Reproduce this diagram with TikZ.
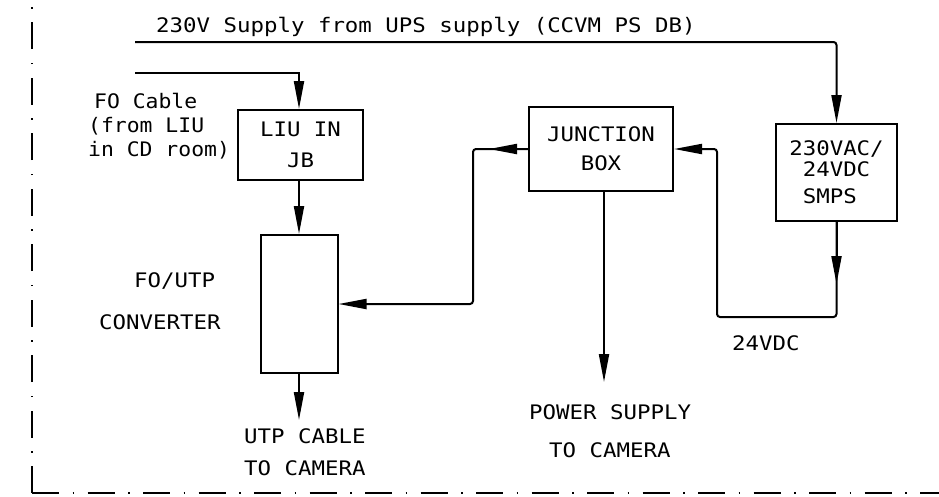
\documentclass[tikz,border=0pt]{standalone}
\usepackage{fontspec}
\newfontfamily\cadfont[FakeStretch=1.12]{DejaVu Sans Mono}
\newfontfamily\cadnarrow[FakeStretch=1.07]{DejaVu Sans Mono}
\newcommand\cadtxt{\cadfont\fontsize{20}{24}\selectfont}
\newcommand\cadntxt{\cadnarrow\fontsize{20}{24}\selectfont}
\usetikzlibrary{arrows.meta}
\begin{document}
\begin{tikzpicture}[x=1pt,y=-1pt,
  wire/.style={line width=2pt},
  tip/.style={-{Triangle[length=28pt,width=10pt]}},
  box/.style={draw,line width=2pt,inner sep=0pt,align=center,font=\cadtxt},
  lbl/.style={inner sep=0pt,anchor=base west,font=\cadtxt},
  nlbl/.style={lbl,font=\cadntxt},
  border/.style={line width=2pt,dash pattern=on 27pt off 13.5pt on 1.5pt off 13.5pt}]
\useasboundingbox[fill=white] (0,0) rectangle (939,496);

% frame (dash-dot)
\coordinate (corner) at (32,493);
\coordinate (ftop) at (32,0);
\coordinate (fright) at (939,493);
\draw[border] (corner) -- (ftop);
\draw[border] (corner) -- (fright);

% boxes
\node[box,minimum width=125pt,minimum height=70pt] (liu) at (300.5,145) {LIU IN\\[7pt]JB};
\node[box,minimum width=77pt,minimum height=138pt] (conv) at (299,304) {};
\node[box,minimum width=144pt,minimum height=84pt] (jb) at (601,149) {JUNCTION\\[5pt]BOX};
\node[box,minimum width=121pt,minimum height=97pt] (smps) at (836.5,172.5)
  {230VAC/\\[-3pt]24VDC\\[3pt]SMPS\phantom{X}};

% labels
\node[lbl] (suptxt) at (156,32) {230V Supply from UPS supply (CCVM PS DB)};
\node[nlbl] (fo1) at (94,108) {FO Cable};
\node[nlbl] (fo2) at (88,132) {(from LIU};
\node[nlbl] (fo3) at (88,156) {in CD room)};
\node[lbl] (cv1) at (134,287) {FO/UTP};
\node[lbl] (cv2) at (99,329) {CONVERTER};
\node[lbl] (utp1) at (244,443) {UTP CABLE};
\node[lbl] (utp2) at (244,475) {TO CAMERA};
\node[lbl] (ps1) at (529,419) {POWER SUPPLY};
\node[lbl] (ps2) at (549,457) {TO CAMERA};
\node[lbl] (dc) at (732,350) {24VDC};

% connectors
\coordinate (sup) at (135,42);
\coordinate (fo) at (135,72.5);
\coordinate (lc) at (473,304);
\coordinate (dcb) at (717,317);
\coordinate (ps) at (604,382);
\coordinate (utp) at (299,420);

\draw[wire,rounded corners=3pt,tip] (sup) -| (smps.north);
\draw[wire,tip] (fo) -| (utp |- liu.north);
\draw[wire,tip] (liu.south -| utp) -- (conv.north -| utp);
\draw[wire,tip] (conv.south -| utp) -- (utp);
\draw[wire,rounded corners=3pt,tip] (jb.west) -| (lc) -- (conv.east);
\draw[wire,tip] (jb.west) -- ([xshift=-39pt]jb.west);
\draw[wire,rounded corners=3pt,tip] (smps.south) |- (dcb) |- (jb.east);
\draw[wire,tip] (smps.south) -- ([yshift=-62pt]smps.south);
\draw[wire,tip] (jb.south -| ps) -- (ps);
\end{tikzpicture}
\end{document}
